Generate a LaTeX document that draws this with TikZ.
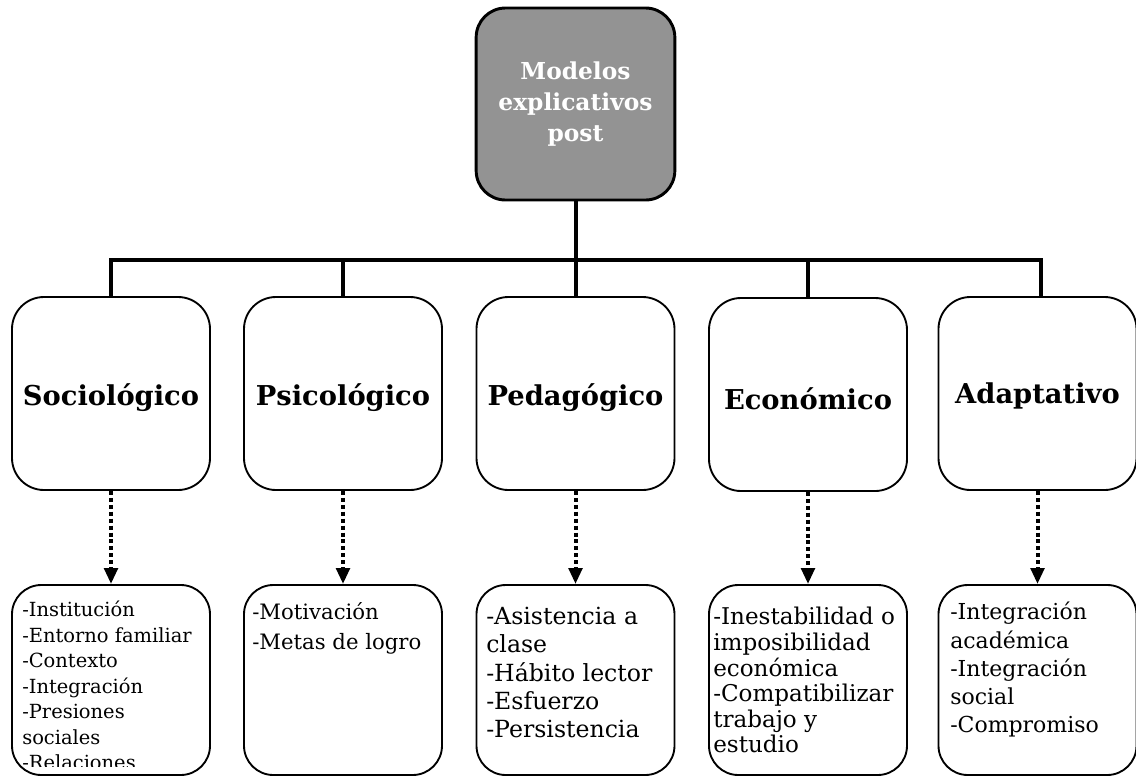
\documentclass[tikz,border=0pt]{standalone}
\usepackage{fontspec}
\setmainfont{DejaVu Serif}
\usetikzlibrary{arrows.meta}
\definecolor{boxgray}{RGB}{147,147,147}
\begin{document}
\begin{tikzpicture}[x=0.75pt,y=-0.75pt,
  topbox/.style={draw, line width=2.2pt, fill=boxgray, rounded corners=22pt,
    minimum width=149pt, minimum height=144pt, inner sep=0pt,
    text=white, align=center, font=\bfseries\fontsize{17.5}{23.5}\selectfont},
  midbox/.style={draw, line width=1.4pt, rounded corners=24pt,
    minimum width=148.5pt, minimum height=144.75pt, inner sep=0pt},
  title/.style={inner sep=0pt, font=\bfseries\fontsize{20.5}{24}\selectfont},
  lowbox/.style={draw, line width=1.4pt, rounded corners=22pt,
    minimum width=148.5pt, minimum height=142.5pt, inner sep=0pt},
  lowtext/.style={anchor=north west, align=left, inner sep=0pt},
  bar/.style={line width=3pt},
  dotarrow/.style={line width=3pt, dash pattern=on 3pt off 2.2pt,
    -{Triangle[length=12pt,width=10pt]}},
]
\useasboundingbox (0,0) rectangle (1136,776);

% root
\node[topbox] (top) at (575.5,104) {Modelos\\explicativos\\post};

% the five models
\node[midbox] (m1) at (111,393.5) {};
\node[midbox] (m2) at (343,393.5) {};
\node[midbox] (m3) at (575.5,393.5) {};
\node[midbox] (m4) at (808,394.5) {};
\node[midbox] (m5) at (1037.5,393.5) {};
\node[title] (l1) at ([yshift=-3pt]m1.center) {Sociológico};
\node[title] (l2) at ([yshift=-3pt]m2.center) {Psicológico};
\node[title] (l3) at ([yshift=-3pt]m3.center) {Pedagógico};
\node[title] (l4) at ([yshift=-3.5pt]m4.center) {Económico};
\node[title] (l5) at ([yshift=-1.5pt]m5.center) {Adaptativo};

% factor boxes
\node[lowbox] (b1) at (111,680) {};
\node[lowbox] (b2) at (343,680) {};
\node[lowbox] (b3) at (575.5,680) {};
\node[lowbox] (b4) at (808,680) {};
\node[lowbox] (b5) at (1037.5,680) {};

% factor lists
\begin{scope}
  \clip (14,588) rectangle (208,766);
  \node[lowtext, font=\fontsize{14.6}{19.1}\selectfont] (t1) at (22,601)
    {-Institución\\-Entorno familiar\\-Contexto\\-Integración\\-Presiones\\sociales\\-Relaciones};
\end{scope}
\node[lowtext, font=\fontsize{15.9}{22.5}\selectfont] (t2) at (252,602)
  {-Motivación\\-Metas de logro};
\node[lowtext, font=\fontsize{17.7}{21.2}\selectfont] (t3) at (486,607)
  {-Asistencia a\\clase\\-Hábito lector\\-Esfuerzo\\-Persistencia};
\node[lowtext, font=\fontsize{17.3}{19.2}\selectfont] (t4) at (713,607)
  {-Inestabilidad o\\imposibilidad\\económica\\-Compatibilizar\\trabajo y\\estudio};
\node[lowtext, font=\fontsize{16.5}{21.2}\selectfont] (t5) at (950,602)
  {-Integración\\académica\\-Integración\\social\\-Compromiso};

% tree connectors
\coordinate (hub) at (575.5,260);
\draw[bar] (top.south) -- (hub);
\draw[bar] (hub) -| (m1.north);
\draw[bar] (hub) -| (m2.north);
\draw[bar] (hub) -- (m3.north);
\draw[bar] (hub) -| (m4.north);
\draw[bar] (hub) -| ([xshift=2.6pt]m5.north);

% dotted arrows
\draw[dotarrow] (m1.south) -- (b1.north);
\draw[dotarrow] (m2.south) -- (b2.north);
\draw[dotarrow] (m3.south) -- (b3.north);
\draw[dotarrow] (m4.south) -- (b4.north);
\draw[dotarrow] (m5.south) -- (b5.north);
\end{tikzpicture}
\end{document}
